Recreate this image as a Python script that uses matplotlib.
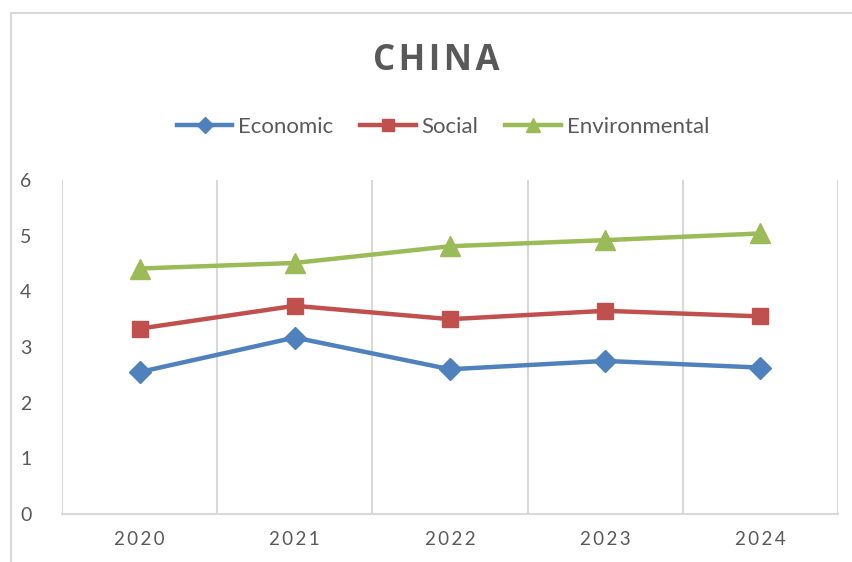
import matplotlib
matplotlib.use("Agg")
import matplotlib.pyplot as plt
from matplotlib.patches import Rectangle

plt.rcParams['font.family'] = ['Lato', 'DejaVu Sans']

years = ["2020", "2021", "2022", "2023", "2024"]
economic = [2.55, 3.17, 2.60, 2.75, 2.63]
social = [3.33, 3.74, 3.50, 3.65, 3.55]
environmental = [4.41, 4.51, 4.81, 4.92, 5.04]
series_names = ["Economic", "Social", "Environmental"]

fig = plt.figure(figsize=(8.53, 5.62), dpi=100)
ax = fig.add_axes([62/853, 1-514/562, (838-62)/853, (514-180)/562])

x = list(range(len(years)))
lw = 3.2
ax.plot(x, economic, color='#4F81BD', lw=lw, marker='D', ms=11, label=series_names[0], zorder=3)
ax.plot(x, social, color='#C0504D', lw=lw, marker='s', ms=12, label=series_names[1], zorder=3)
ax.plot(x, environmental, color='#9BBB59', lw=lw, marker='^', ms=14, label=series_names[2], zorder=3)

ax.set_xlim(-0.5, len(years) - 0.5)
ax.set_ylim(0, 6)
ax.set_yticks(range(0, 7))
ax.set_xticks(x)
ax.set_xticklabels(['\u2009'.join(y) for y in years], fontsize=13.5, color='#595959')
ax.set_xticks([i + 0.5 for i in range(-1, len(years))], minor=True)
ax.grid(True, which='minor', axis='x', color='#D9D9D9', lw=1.5)
ax.tick_params(axis='both', which='both', length=0)
ax.tick_params(axis='y', labelsize=14, labelcolor='#595959', pad=22)
ax.tick_params(axis='x', pad=12)
for s in ['top', 'right', 'left']:
    ax.spines[s].set_visible(False)
ax.spines['bottom'].set_color('#D9D9D9')
ax.spines['bottom'].set_linewidth(1.5)

fig.text(436.5/853, 1 - 61/562, '\u200a'.join("CHINA"), ha='center', va='center', fontsize=25,
         fontweight='bold', color='#595959', family=['Open Sans', 'DejaVu Sans'])

fig.legend(loc='center', bbox_to_anchor=(443/853, 1 - 127/562), ncol=3, frameon=False,
           fontsize=16, handlelength=2.5, handletextpad=0.27, columnspacing=1.2,
           labelcolor='#595959', markerscale=0.75)

fig.patches.append(Rectangle((11/853, -0.1), 1.2, 1 - 13/562 + 0.1, transform=fig.transFigure,
                             fill=False, edgecolor='#D9D9D9', lw=1.5))

fig.savefig("out.png", dpi=100)
